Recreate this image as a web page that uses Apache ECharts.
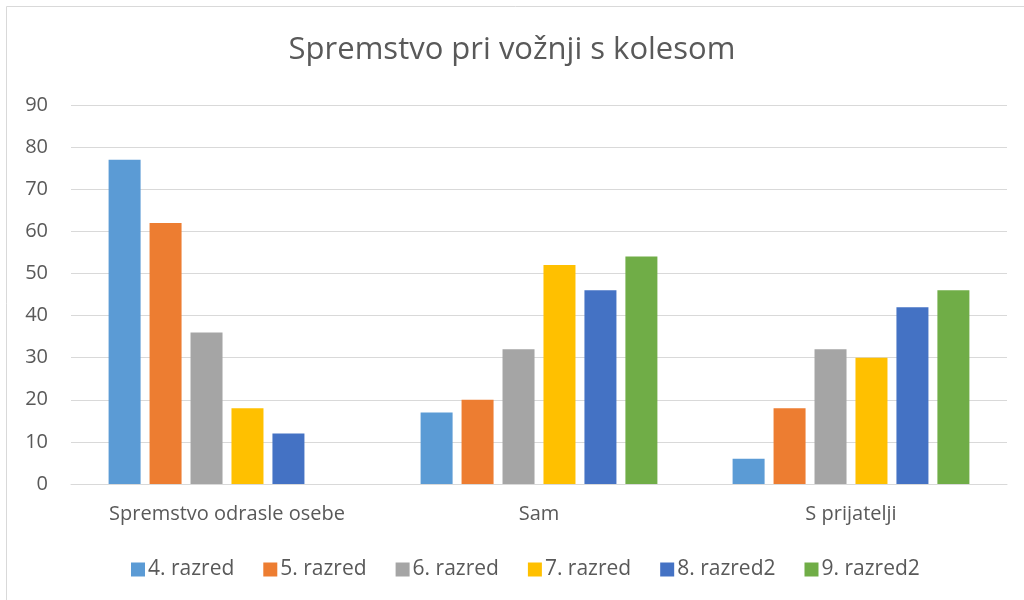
<!DOCTYPE html>
<html>
<head>
<meta charset="utf-8">
<script src="https://cdn.jsdelivr.net/npm/echarts@6/dist/echarts.min.js"></script>
<style>
  html, body { margin: 0; padding: 0; background: #fff; }
  #chart { width: 1024px; height: 600px; }
</style>
</head>
<body>
<div id="chart"></div>
<script>
// kategorije in podatki
const categories = ['Spremstvo odrasle osebe', 'Sam', 'S prijatelji']
const seriesNames = ['4. razred', '5. razred', '6. razred', '7. razred', '8. razred2', '9. razred2']
const razred4 = [77, 17, 6]
const razred5 = [62, 20, 18]
const razred6 = [36, 32, 32]
const razred7 = [18, 52, 30]
const razred8 = [12, 46, 42]
const razred9 = [null, 54, 46]
const colors = ['#5B9BD5', '#ED7D31', '#A5A5A5', '#FFC000', '#4472C4', '#70AD47']

const allData = [razred4, razred5, razred6, razred7, razred8, razred9]
const font = '"Open Sans", "Noto Sans", sans-serif'

const chart = echarts.init(document.getElementById('chart'))

const option = {
  animation: false,
  color: colors,
  title: {
    text: 'Spremstvo pri vožnji s kolesom',
    left: 'center',
    top: 30,
    textStyle: {
      fontFamily: font,
      fontSize: 31,
      fontWeight: 'normal',
      color: '#595959'
    }
  },
  graphic: [{
    type: 'rect',
    shape: { x: 6.5, y: 6.5, width: 1030, height: 620 },
    style: { fill: 'none', stroke: '#d9d9d9', lineWidth: 1 },
    silent: true
  }],
  legend: {
    bottom: 15,
    left: 126,
    itemWidth: 14,
    itemHeight: 14,
    itemGap: 29,
    icon: 'rect',
    textStyle: {
      fontFamily: font,
      fontSize: 21,
      color: '#595959',
      padding: [0, 0, 0, -2]
    },
    data: seriesNames
  },
  grid: {
    left: 71,
    right: 17,
    top: 105,
    bottom: 116
  },
  xAxis: {
    type: 'category',
    data: categories,
    axisLine: { show: true, lineStyle: { color: '#d9d9d9' } },
    axisTick: { show: false },
    axisLabel: {
      margin: 20,
      fontFamily: font,
      fontSize: 20,
      color: '#595959'
    }
  },
  yAxis: {
    type: 'value',
    min: 0,
    max: 90,
    interval: 10,
    axisLine: { show: false },
    axisTick: { show: false },
    splitLine: { lineStyle: { color: '#d9d9d9', width: 1 } },
    axisLabel: {
      margin: 23,
      fontFamily: font,
      fontSize: 20,
      color: '#595959'
    }
  },
  series: seriesNames.map((name, i) => ({
    name: name,
    type: 'bar',
    data: allData[i],
    barWidth: 32,
    barGap: '28%',
    barCategoryGap: '24%'
  }))
}

chart.setOption(option)
</script>
</body>
</html>
